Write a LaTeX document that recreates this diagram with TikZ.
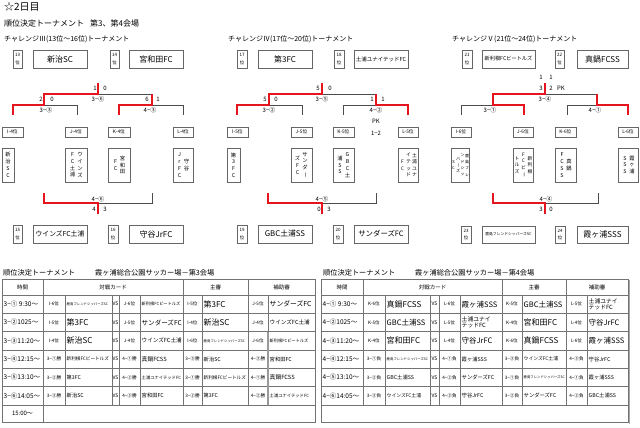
\documentclass[tikz,border=0pt]{standalone}
\usepackage{fontspec}
\setmainfont{Noto Sans CJK JP}
\usepackage{graphicx}
\definecolor{myred}{RGB}{230,20,30}
\newsavebox\fitbox
\newcommand\fitto[2]{\sbox\fitbox{#2}\ifdim\wd\fitbox>#1pt\resizebox{#1pt}{!}{\usebox\fitbox}\else\usebox\fitbox\fi}
\newcommand\fsz[1]{\fontsize{#1}{#1}\selectfont}
\newcommand\fszl[2]{\fontsize{#1}{#2}\selectfont}
\newcommand\vchoon{\rotatebox[origin=c]{-90}{ー}}
\newcount\ncnt
\newcommand\bxn[7]{\node[bx, font=#6, minimum width={(#4-#2)*1pt}, minimum height={(#5-#3)*1pt}] (#1) at ({(#2+#4)/2},{(#3+#5)/2}) {#7};}
\newcommand\tmc[3]{\global\advance\ncnt by 1 \node[tc,anchor=west] (c\the\ncnt) at (#1,#2) {\fitto{40}{\fsz{6.5}#3}};}
\newcommand\lbc[3]{\global\advance\ncnt by 1 \node[tc] (c\the\ncnt) at (#1,#2) {\fitto{20}{\fsz{4.6}#3}};}
\newcommand\tmn[5]{\global\advance\ncnt by 1 \node[tc,anchor=west] (c\the\ncnt) at (#1,#2) {\fitto{#3}{\fsz{#4}#5}};}
\newcommand\vsc[2]{\global\advance\ncnt by 1 \node[tc,font=\fsz{5}] (c\the\ncnt) at (#1,#2) {VS};}
\newcommand\scl[3]{\global\advance\ncnt by 1 \node[sc] (s\the\ncnt) at (#1,#2) {#3};}
\begin{document}
\begin{tikzpicture}[x=1pt,y=-1pt,
  bx/.style={draw=black!60, line width=0.5pt, inner sep=0pt, align=center},
  bl/.style={draw=black!70, line width=0.6pt},
  rd/.style={draw=myred, line width=1.6pt, line join=miter},
  vt/.style={inner sep=0pt, align=center, font=\fszl{5.3}{6.8}},
  vts/.style={inner sep=0pt, align=center, font=\fszl{4.8}{6.6}},
  vtt/.style={inner sep=0pt, align=center, font=\fszl{4}{6.4}},
  sc/.style={inner sep=0pt, font=\fsz{6}},
  tl/.style={draw=black!55, line width=0.5pt},
  tc/.style={inner sep=0pt},
  pos/.style={}
]
\useasboundingbox (0,0) rectangle (640,428);
\fill[white] (0,0) rectangle (640,428);

% ---------- titles ----------
\node[tc,anchor=west] (title) at (4,7) {\fsz{10}☆2日目};
\node[tc,anchor=west] (sub) at (4,23) {\fsz{8}順位決定トーナメント\hspace{6pt}第3、第4会場};
\node[tc,anchor=west] (ch3) at (4,39) {\fsz{7}チャレンジⅢ(13位～16位)トーナメント};
\node[tc,anchor=west] (ch4) at (228,39) {\fsz{7}チャレンジⅣ(17位～20位)トーナメント};
\node[tc,anchor=west] (ch5) at (452,39) {\fsz{7}チャレンジⅤ(21位～24位)トーナメント};

% ---------- section 1 ----------
\bxn{p13}{13}{50}{22}{68}{\fszl{4.5}{7.5}}{13\\位}
\bxn{w13}{33}{50}{87}{68}{\fsz{8}}{新治SC}
\bxn{p14}{110}{50}{119}{68}{\fszl{4.5}{7.5}}{14\\位}
\bxn{w14}{129}{50}{183}{68}{\fsz{8}}{宮和田FC}
\bxn{lI4}{2}{127}{23}{137}{\fsz{4.8}}{I-4位}
\bxn{lJ4}{65}{127}{87}{137}{\fsz{4.8}}{J-4位}
\bxn{lK4}{108}{127}{130}{137}{\fsz{4.8}}{K-4位}
\bxn{lL4}{173}{127}{193}{137}{\fsz{4.8}}{L-4位}
\bxn{tI4}{2}{148}{14}{182}{}{}
\node[vt] (vI4a) at (8,165) {新\\治\\S\\C};
\bxn{tJ4}{65}{148}{87}{182}{}{}
\node[vt] (vJ4a) at (80,165) {ウ\\イ\\ン\\ズ};
\node[vt] (vJ4b) at (72.5,165) {F\\C\\土\\浦};
\bxn{tK4}{108}{148}{130}{182}{}{}
\node[vt] (vK4a) at (122.5,165) {宮\\和\\田};
\node[vt] (vK4b) at (115.5,165) {F\\C};
\bxn{tL4}{173}{148}{193}{182}{}{}
\node[vt] (vL4a) at (186.5,165) {守\\谷};
\node[vt] (vL4b) at (179.5,165) {J\\r\\F\\C};
\bxn{p15}{13}{225}{22}{243}{\fszl{4.5}{7.5}}{15\\位}
\bxn{w15}{33}{225}{87}{243}{\fsz{6.8}}{ウインズFC土浦}
\bxn{p16}{108}{225}{118}{243}{\fszl{4.5}{7.5}}{16\\位}
\bxn{w16}{129}{225}{183}{243}{\fsz{8}}{守谷JrFC}

\draw[bl] (98,94) -- (152,94);
\draw[bl] (44,105) -- (77,105) -- (77,115);
\draw[bl] (152,105) -- (183,105) -- (183,115);
\draw[bl] (98,203) -- (152,203) -- (152,193);
\draw[rd] (98,83) -- (98,94) -- (44,94) -- (44,105) -- (13,105) -- (13,115);
\draw[rd] (152,94) -- (152,105) -- (119,105) -- (119,115);
\draw[rd] (44,193) -- (44,203) -- (98,203) -- (98,214);
\scl{95}{88}{1}\scl{105}{88}{0}
\scl{41}{99}{2}\scl{52}{99}{0}
\scl{98}{99}{3−⑥}\scl{46}{110}{3−③}
\scl{147}{99}{6}\scl{158}{99}{1}\scl{150}{110}{4−③}
\scl{98}{199}{4−⑥}\scl{94}{209}{4}\scl{105}{209}{3}

% ---------- section 2 ----------
\bxn{p17}{237}{50}{247}{68}{\fszl{4.5}{7.5}}{17\\位}
\bxn{w17}{258}{50}{312}{68}{\fsz{8}}{第3FC}
\bxn{p18}{334}{50}{344}{68}{\fszl{4.5}{7.5}}{18\\位}
\bxn{w18}{354}{50}{408}{68}{\fsz{5.5}}{土浦ユナイテッドFC}
\bxn{lI5}{227}{127}{248}{137}{\fsz{4.8}}{I-5位}
\bxn{lJ5}{291}{127}{312}{137}{\fsz{4.8}}{J-5位}
\bxn{lK5}{333}{127}{354}{137}{\fsz{4.8}}{K-5位}
\bxn{lL5}{398}{127}{418}{137}{\fsz{4.8}}{L-5位}
\bxn{tI5}{227}{148}{240}{182}{}{}
\node[vt] (vI5a) at (233.5,165) {第\\3\\F\\C};
\bxn{tJ5}{291}{148}{312}{182}{}{}
\node[vt] (vJ5a) at (305,165) {サ\\ン\\ダ\\\vchoon};
\node[vt] (vJ5b) at (297.5,165) {ズ\\F\\C};
\bxn{tK5}{333}{148}{354}{182}{}{}
\node[vt] (vK5a) at (347.5,165) {G\\B\\C\\土};
\node[vt] (vK5b) at (340,165) {浦\\S\\S};
\bxn{tL5}{398}{148}{418}{182}{}{}
\node[vts] (vL5a) at (414.5,165) {土\\浦\\ユ\\ナ};
\node[vts] (vL5b) at (408.5,165) {イ\\テ\\ッ\\ド};
\node[vts] (vL5c) at (402.5,165) {F\\C};
\bxn{p19}{237}{225}{247}{243}{\fszl{4.5}{7.5}}{19\\位}
\bxn{w19}{258}{225}{312}{243}{\fsz{7.8}}{GBC土浦SS}
\bxn{p20}{333}{225}{343}{243}{\fszl{4.5}{7.5}}{20\\位}
\bxn{w20}{354}{225}{408}{243}{\fsz{7.4}}{サンダーズFC}

\draw[bl] (322,94) -- (376,94);
\draw[bl] (269,105) -- (302,105) -- (302,115);
\draw[bl] (343,115) -- (343,105) -- (376,105);
\draw[bl] (322,203) -- (376,203) -- (376,193);
\draw[rd] (322,83) -- (322,94) -- (269,94) -- (269,105) -- (237,105) -- (237,115);
\draw[rd] (376,94) -- (376,105) -- (408,105) -- (408,115);
\draw[rd] (268,193) -- (268,203) -- (322,203) -- (322,214);
\scl{318}{88}{5}\scl{330}{88}{0}
\scl{265}{99}{5}\scl{276}{99}{0}
\scl{322}{99}{3−⑤}\scl{269}{110}{3−②}
\scl{372}{99}{1}\scl{383}{99}{1}\scl{376}{110}{4−②}
\scl{376}{121}{PK}\scl{376}{133}{1−2}
\scl{322}{199}{4−⑤}\scl{319}{209}{0}\scl{329}{209}{3}

% ---------- section 3 ----------
\bxn{p21}{462}{50}{472}{68}{\fszl{4.5}{7.5}}{21\\位}
\bxn{w21}{482}{50}{535}{68}{\fsz{5.2}}{新利根FCビートルズ}
\bxn{p22}{555}{50}{564}{68}{\fszl{4.5}{7.5}}{22\\位}
\bxn{w22}{577}{50}{628}{68}{\fsz{8}}{真鍋FCSS}
\bxn{lI6}{451}{127}{471}{137}{\fsz{4.8}}{I-6位}
\bxn{lJ6}{513}{127}{533}{137}{\fsz{4.8}}{J-6位}
\bxn{lK6}{555}{127}{576}{137}{\fsz{4.8}}{K-6位}
\bxn{lL6}{618}{127}{638}{137}{\fsz{4.8}}{L-6位}
\bxn{tI6}{451}{148}{469}{182}{}{}
\node[vtt] (vI6a) at (467,165) {鹿\\島\\フ\\レ};
\node[vtt] (vI6b) at (462.5,165) {ン\\ド\\シ\\ッ};
\node[vtt] (vI6c) at (458,165) {パ\\\vchoon\\ズ};
\node[vtt] (vI6d) at (453.5,165) {S\\C};
\bxn{tJ6}{513}{148}{533}{182}{}{}
\node[vts] (vJ6a) at (530,165) {新\\利\\根};
\node[vts] (vJ6b) at (523.5,165) {F\\C\\ビ\\\vchoon};
\node[vts] (vJ6c) at (517,165) {ト\\ル\\ズ};
\bxn{tK6}{555}{148}{576}{182}{}{}
\node[vt] (vK6a) at (569,165) {真\\鍋};
\node[vt] (vK6b) at (562,165) {F\\C\\S\\S};
\bxn{tL6}{618}{148}{638}{182}{}{}
\node[vt] (vL6a) at (632,165) {霞\\ヶ\\浦};
\node[vt] (vL6b) at (625,165) {S\\S\\S};
\bxn{p23}{461}{226}{471}{243}{\fszl{4.5}{7.5}}{23\\位}
\bxn{w23}{482}{226}{535}{243}{\fsz{3.8}}{鹿島フレンドシッパーズSC}
\bxn{p24}{555}{226}{565}{243}{\fszl{4.5}{7.5}}{24\\位}
\bxn{w24}{577}{226}{628}{243}{\fsz{8}}{霞ヶ浦SSS}

\draw[bl] (545,94) -- (597,94);
\draw[bl] (461,115) -- (461,105) -- (493,105);
\draw[bl] (567,115) -- (567,105) -- (597,105);
\draw[bl] (545,203) -- (598,203) -- (598,193);
\draw[rd] (545,83) -- (545,94) -- (493,94) -- (493,105) -- (524,105) -- (524,115);
\draw[rd] (597,94) -- (597,105) -- (628,105) -- (628,115);
\draw[rd] (493,193) -- (493,203) -- (545,203) -- (545,214);
\scl{541}{77}{1}\scl{551}{77}{1}
\scl{541}{88}{3}\scl{551}{88}{2}\scl{561}{88}{PK}
\scl{545}{99}{3−④}\scl{490}{110}{3−①}\scl{595}{110}{4−①}
\scl{546}{199}{4−④}\scl{541}{209}{3}\scl{551}{209}{0}

% ---------- table titles ----------
\node[tc,anchor=west] (tt1) at (3,273) {\fsz{7.2}順位決定トーナメント\hspace{20pt}霞ヶ浦総合公園サッカー場－第3会場};
\node[tc,anchor=west] (tt2) at (323,273) {\fsz{7.2}順位決定トーナメント\hspace{20pt}霞ヶ浦総合公園サッカー場－第4会場};

% ---------- table 1 grid ----------
\draw[tl] (2,279) rectangle (315,422);
\foreach \y in {295,313.3,331.6,350,368.3,386.6,405} \draw[tl] (2,\y) -- (315,\y);
\foreach \x in {43,183,248} \draw[tl] (\x,279) -- (\x,295);
\foreach \x in {43,65,112,119,140,183,202,248,268} \draw[tl] (\x,295) -- (\x,405);
\draw[tl] (43,405) -- (43,422);
\draw[black!40, line width=1.2pt] (268,331.6) -- (268,405);

% ---------- table 2 grid ----------
\draw[tl] (321,279) rectangle (628,422);
\foreach \y in {295,313.3,331.6,350,368.3,386.6,405} \draw[tl] (321,\y) -- (628,\y);
\foreach \x in {363,502,566} \draw[tl] (\x,279) -- (\x,295);
\foreach \x in {363,385,430,439,460,502,522,566,587} \draw[tl] (\x,295) -- (\x,405);
\draw[black!35, line width=1.5pt] (629.5,280) -- (629.5,424);

% ---------- headers ----------
\node[tc,font=\fsz{5.5}] (h11) at (22.5,287) {時間};
\node[tc,font=\fsz{5.5}] (h12) at (113,287) {対戦カード};
\node[tc,font=\fsz{5.5}] (h13) at (215.5,287) {主審};
\node[tc,font=\fsz{5.5}] (h14) at (281.5,287) {補助審};
\node[tc,font=\fsz{5.5}] (h21) at (342,287) {時間};
\node[tc,font=\fsz{5.5}] (h22) at (432.5,287) {対戦カード};
\node[tc,font=\fsz{5.5}] (h23) at (534,287) {主審};
\node[tc,font=\fsz{5.5}] (h24) at (597,287) {補助審};

% ---------- table 1 rows ----------
\tmc{3.5}{304.15}{3−① 9:30〜}
\lbc{54}{304.15}{I-6位}
\tmn{66.5}{304.15}{44}{3.4}{鹿島フレンドシッパーズSC}
\vsc{115.5}{304.15}
\lbc{129.5}{304.15}{J-6位}
\tmn{141.5}{304.15}{40}{4.2}{新利根FCビートルズ}
\lbc{192.5}{304.15}{I-5位}
\tmn{203.5}{304.15}{43}{8}{第3FC}
\lbc{258}{304.15}{J-5位}
\tmn{269.5}{304.15}{44}{6.8}{サンダーズFC}

\tmc{3.5}{322.45}{3−②1025〜}
\lbc{54}{322.45}{I-5位}
\tmn{66.5}{322.45}{44}{8}{第3FC}
\vsc{115.5}{322.45}
\lbc{129.5}{322.45}{J-5位}
\tmn{141.5}{322.45}{40}{7}{サンダーズFC}
\lbc{192.5}{322.45}{I-4位}
\tmn{203.5}{322.45}{43}{8}{新治SC}
\lbc{258}{322.45}{J-4位}
\tmn{269.5}{322.45}{44}{5.6}{ウインズFC土浦}

\tmc{3.5}{340.8}{3−③11:20〜}
\lbc{54}{340.8}{I-4位}
\tmn{66.5}{340.8}{44}{8}{新治SC}
\vsc{115.5}{340.8}
\lbc{129.5}{340.8}{J-4位}
\tmn{141.5}{340.8}{40}{5.6}{ウインズFC土浦}
\lbc{192.5}{340.8}{I-6位}
\tmn{203.5}{340.8}{43}{3.4}{鹿島フレンドシッパーズSC}
\lbc{258}{340.8}{J-6位}
\tmn{269.5}{340.8}{44}{4.2}{新利根FCビートルズ}

\tmc{3.5}{359.15}{3−④12:15〜}
\lbc{54}{359.15}{3−①勝}
\tmn{66.5}{359.15}{44}{4.6}{新利根FCビートルズ}
\vsc{115.5}{359.15}
\lbc{129.5}{359.15}{4−①勝}
\tmn{141.5}{359.15}{40}{5.8}{真鍋FCSS}
\lbc{192.5}{359.15}{3−③勝}
\tmn{203.5}{359.15}{43}{5.3}{新治SC}
\lbc{258}{359.15}{4−③勝}
\tmn{269.5}{359.15}{44}{5.3}{宮和田FC}

\tmc{3.5}{377.45}{3−⑤13:10〜}
\lbc{54}{377.45}{3−②勝}
\tmn{66.5}{377.45}{44}{5.2}{第3FC}
\vsc{115.5}{377.45}
\lbc{129.5}{377.45}{4−②勝}
\tmn{141.5}{377.45}{40}{4.3}{土浦ユナイテッドFC}
\lbc{192.5}{377.45}{3−①勝}
\tmn{203.5}{377.45}{43}{4.6}{新利根FCビートルズ}
\lbc{258}{377.45}{4−①勝}
\tmn{269.5}{377.45}{44}{5.8}{真鍋FCSS}

\tmc{3.5}{395.8}{3−⑥14:05〜}
\lbc{54}{395.8}{3−③勝}
\tmn{66.5}{395.8}{44}{5.3}{新治SC}
\vsc{115.5}{395.8}
\lbc{129.5}{395.8}{4−③勝}
\tmn{141.5}{395.8}{40}{5.3}{宮和田FC}
\lbc{192.5}{395.8}{3−②勝}
\tmn{203.5}{395.8}{43}{5.2}{第3FC}
\lbc{258}{395.8}{4−②勝}
\tmn{269.5}{395.8}{44}{4.3}{土浦ユナイテッドFC}

\node[tc,font=\fsz{6}] (t1last) at (22.5,413.5) {15:00〜};

% ---------- table 2 rows ----------
\tmc{322.5}{304.15}{4−① 9:30〜}
\lbc{374}{304.15}{K-6位}
\tmn{386.5}{304.15}{42}{8}{真鍋FCSS}
\vsc{434.5}{304.15}
\lbc{449.5}{304.15}{L-6位}
\tmn{461.5}{304.15}{39}{7.5}{霞ヶ浦SSS}
\lbc{512}{304.15}{K-5位}
\tmn{523.5}{304.15}{41}{7.5}{GBC土浦SS}
\lbc{576.5}{304.15}{L-5位}
\node[tc,anchor=west,align=left,font=\fszl{5.8}{6.3}] (u1) at (588.5,304.15) {土浦ユナイ\\テッドFC};

\tmc{322.5}{322.45}{4−②1025〜}
\lbc{374}{322.45}{K-5位}
\tmn{386.5}{322.45}{42}{7.5}{GBC土浦SS}
\vsc{434.5}{322.45}
\lbc{449.5}{322.45}{L-5位}
\node[tc,anchor=west,align=left,font=\fszl{5.8}{6.3}] (u2) at (461.5,322.45) {土浦ユナイ\\テッドFC};
\lbc{512}{322.45}{K-4位}
\tmn{523.5}{322.45}{41}{8}{宮和田FC}
\lbc{576.5}{322.45}{L-4位}
\tmn{588.5}{322.45}{38}{7.5}{守谷JrFC}

\tmc{322.5}{340.8}{4−③11:20〜}
\lbc{374}{340.8}{K-4位}
\tmn{386.5}{340.8}{42}{8}{宮和田FC}
\vsc{434.5}{340.8}
\lbc{449.5}{340.8}{L-4位}
\tmn{461.5}{340.8}{39}{7.5}{守谷JrFC}
\lbc{512}{340.8}{K-6位}
\tmn{523.5}{340.8}{41}{8}{真鍋FCSS}
\lbc{576.5}{340.8}{L-6位}
\tmn{588.5}{340.8}{38}{7.5}{霞ヶ浦SSS}

\tmc{322.5}{359.15}{4−④12:15〜}
\lbc{374}{359.15}{3−①負}
\tmn{386.5}{359.15}{42}{3.4}{鹿島フレンドシッパーズSC}
\vsc{434.5}{359.15}
\lbc{449.5}{359.15}{4−①負}
\tmn{461.5}{359.15}{39}{5.3}{霞ヶ浦SSS}
\lbc{512}{359.15}{3−③負}
\tmn{523.5}{359.15}{41}{4.8}{ウインズFC土浦}
\lbc{576.5}{359.15}{4−③負}
\tmn{588.5}{359.15}{38}{5.3}{守谷JrFC}

\tmc{322.5}{377.45}{4−⑤13:10〜}
\lbc{374}{377.45}{3−②負}
\tmn{386.5}{377.45}{42}{5.3}{GBC土浦SS}
\vsc{434.5}{377.45}
\lbc{449.5}{377.45}{4−②負}
\tmn{461.5}{377.45}{39}{5.3}{サンダーズFC}
\lbc{512}{377.45}{3−①負}
\tmn{523.5}{377.45}{41}{3.4}{鹿島フレンドシッパーズSC}
\lbc{576.5}{377.45}{4−①負}
\tmn{588.5}{377.45}{38}{5.3}{霞ヶ浦SSS}

\tmc{322.5}{395.8}{4−⑥14:05〜}
\lbc{374}{395.8}{3−③負}
\tmn{386.5}{395.8}{42}{4.8}{ウインズFC土浦}
\vsc{434.5}{395.8}
\lbc{449.5}{395.8}{4−③負}
\tmn{461.5}{395.8}{39}{5.3}{守谷JrFC}
\lbc{512}{395.8}{3−②負}
\tmn{523.5}{395.8}{41}{5.3}{サンダーズFC}
\lbc{576.5}{395.8}{4−②負}
\tmn{588.5}{395.8}{38}{5.3}{GBC土浦SS}
\end{tikzpicture}
\end{document}
